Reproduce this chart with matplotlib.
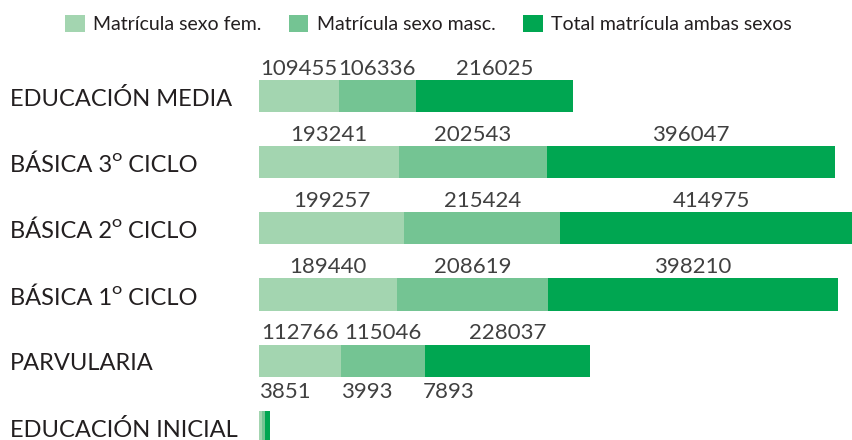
import matplotlib.pyplot as plt
from matplotlib.patches import Patch

# data
categories = ['EDUCACIÓN MEDIA', 'BÁSICA 3ᴼ CICLO', 'BÁSICA 2ᴼ CICLO',
              'BÁSICA 1ᴼ CICLO', 'PARVULARIA', 'EDUCACIÓN INICIAL']
fem = [109455, 193241, 199257, 189440, 112766, 3851]
masc = [106336, 202543, 215424, 208619, 115046, 3993]
total = [216025, 396047, 414975, 398210, 228037, 7893]
series_names = ['Matrícula sexo fem.', 'Matrícula sexo masc.',
                'Total matrícula ambas sexos']
colors = ['#a3d5b0', '#74c493', '#00a651']

plt.rcParams['font.family'] = ['Lato', 'DejaVu Sans']

fig = plt.figure(figsize=(8.52, 4.4), dpi=100)
ax = fig.add_axes([259 / 852, 0, 593 / 852, 1])

rows = list(range(len(categories)))
bar_h = 0.484
left = [0] * len(rows)
for vals, col in zip([fem, masc, total], colors):
    ax.barh(rows, vals, left=left, height=bar_h, color=col, linewidth=0)
    for r in rows:
        if categories[r] != 'EDUCACIÓN INICIAL':
            ax.text(left[r] + vals[r] / 2, r - bar_h / 2 - 0.08, str(vals[r]),
                    ha='center', va='baseline', fontsize=16, color='#404040')
    left = [a + b for a, b in zip(left, vals)]

# tiny bar: labels spread out to the right
r = categories.index('EDUCACIÓN INICIAL')
for k, vals in enumerate([fem, masc, total]):
    ax.text(k * 0.138, r - bar_h / 2 - 0.2, str(vals[r]),
            transform=ax.get_yaxis_transform(), ha='left', va='baseline',
            fontsize=16, color='#404040')

for r, name in zip(rows, categories):
    ax.text(-0.42, r + 0.05, name, transform=ax.get_yaxis_transform(),
            ha='left', va='center', fontsize=17, color='#231f20', clip_on=False)

ax.set_xlim(0, 815700)
ax.set_ylim(5.2, -1.453)
ax.axis('off')

handles = [Patch(facecolor=c, edgecolor='none') for c in colors]
fig.legend(handles, series_names, loc='center', bbox_to_anchor=(0.503, 0.945),
           ncol=3, frameon=False, fontsize=14, handlelength=1.0,
           handleheight=1.0, handletextpad=0.45, columnspacing=1.4,
           labelcolor='#231f20')

fig.savefig('out.png', dpi=100)
